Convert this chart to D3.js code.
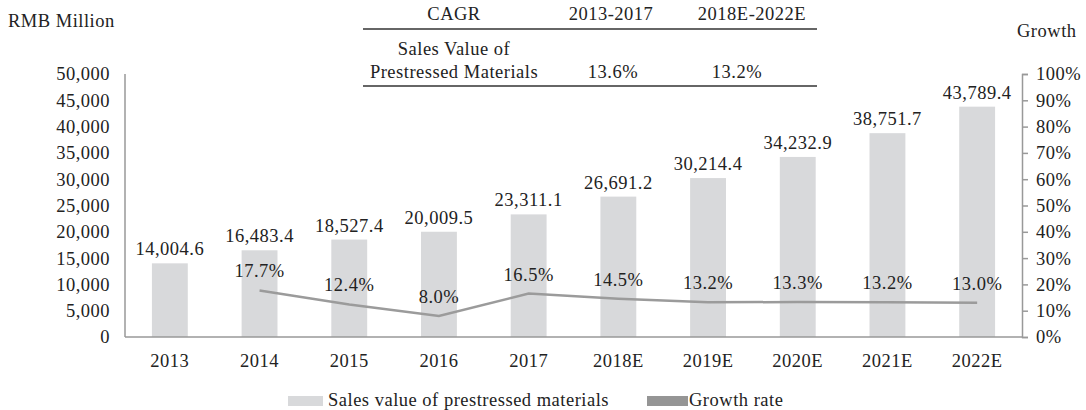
<!DOCTYPE html>
<html>
<head>
<meta charset="utf-8">
<script src="https://cdn.jsdelivr.net/npm/d3@7"></script>
<style>
  body { margin: 0; background: #fff; }
  svg text { font-family: "Palatino Linotype", "Book Antiqua", "Liberation Serif", serif; font-size: 18.5px; letter-spacing: 0.5px; fill: #222; }
</style>
</head>
<body>
<script>
var years = ["2013", "2014", "2015", "2016", "2017", "2018E", "2019E", "2020E", "2021E", "2022E"];
var sales = [14004.6, 16483.4, 18527.4, 20009.5, 23311.1, 26691.2, 30214.4, 34232.9, 38751.7, 43789.4];
var growth = [null, 17.7, 12.4, 8.0, 16.5, 14.5, 13.2, 13.3, 13.2, 13.0];
var leftTicks = [0, 5000, 10000, 15000, 20000, 25000, 30000, 35000, 40000, 45000, 50000];
var rightTicks = [0, 10, 20, 30, 40, 50, 60, 70, 80, 90, 100];
var cagrHead = ["CAGR", "2013-2017", "2018E-2022E"];
var cagrRow = ["Sales Value of|Prestressed Materials", "13.6%", "13.2%"];

var width = 1086,
    height = 410,
    plotL = 125, plotR = 1022, plotT = 74, plotB = 337;

var svg = d3.select("body").append("svg")
    .attr("width", width)
    .attr("height", height);

var x = d3.scaleBand().domain(years).range([plotL, plotR]);
var y = d3.scaleLinear().domain([0, 50000]).range([plotB, plotT]);
var y2 = d3.scaleLinear().domain([0, 100]).range([plotB, plotT]);
var fmt = d3.format(",.1f");

// bars
svg.selectAll(".bar")
    .data(sales)
    .enter().append("rect")
    .attr("x", function(d, i) { return x(years[i]) + x.bandwidth() * 0.3; })
    .attr("y", function(d) { return y(d); })
    .attr("width", x.bandwidth() * 0.4)
    .attr("height", function(d) { return plotB - y(d); })
    .attr("fill", "#d8d9db");

svg.selectAll(".blabel")
    .data(sales)
    .enter().append("text")
    .attr("x", function(d, i) { return x(years[i]) + x.bandwidth() / 2; })
    .attr("y", function(d) { return y(d) - 8; })
    .attr("text-anchor", "middle")
    .text(function(d) { return fmt(d); });

// axes
svg.append("line").attr("x1", plotL).attr("x2", plotL).attr("y1", plotT).attr("y2", plotB)
    .attr("stroke", "#999").attr("stroke-width", 1.5);
svg.append("line").attr("x1", plotL).attr("x2", plotR).attr("y1", plotB).attr("y2", plotB)
    .attr("stroke", "#999").attr("stroke-width", 1.5);

var gl = svg.append("g").attr("transform", "translate(" + plotL + ",0)")
    .call(d3.axisLeft(y).tickValues(leftTicks).tickSize(0).tickPadding(15).tickFormat(d3.format(",")));
gl.select(".domain").remove();

var gr = svg.append("g").attr("transform", "translate(" + plotR + ",0)")
    .call(d3.axisRight(y2).tickValues(rightTicks).tickSize(6).tickPadding(8).tickFormat(function(d) { return d + "%"; }));
gr.select(".domain").attr("stroke", "#999").attr("stroke-width", 1.5);
gr.selectAll(".tick line").attr("stroke", "#999").attr("stroke-width", 1.5);

var gx = svg.append("g").attr("transform", "translate(0," + plotB + ")")
    .call(d3.axisBottom(x).tickSize(0).tickPadding(17));
gx.select(".domain").remove();

svg.selectAll("g.tick text")
    .attr("font-family", null).attr("font-size", null)
    .attr("fill", "#222");

// growth line
var pts = growth.map(function(g, i) { return { g: g, yr: years[i] }; })
    .filter(function(d) { return d.g != null; });

var line = d3.line()
    .x(function(d) { return x(d.yr) + x.bandwidth() / 2; })
    .y(function(d) { return y2(d.g); });

svg.append("path")
    .datum(pts)
    .attr("d", line)
    .attr("fill", "none")
    .attr("stroke", "#9b9b9b")
    .attr("stroke-width", 2.5);

svg.selectAll(".glabel")
    .data(pts)
    .enter().append("text")
    .attr("x", function(d) { return x(d.yr) + x.bandwidth() / 2; })
    .attr("y", function(d) { return y2(d.g) - 13; })
    .attr("text-anchor", "middle")
    .text(function(d) { return d.g.toFixed(1) + "%"; });

// axis titles
svg.append("text").attr("x", 8).attr("y", 27).text("RMB Million");
svg.append("text").attr("x", 1017).attr("y", 37).text("Growth");

// CAGR table
var colX = [454, 611, 752];
var tbl = svg.append("g");
tbl.append("line").attr("x1", 363).attr("x2", 817).attr("y1", 29).attr("y2", 29).attr("stroke", "#333").attr("stroke-width", 1.3);
tbl.append("line").attr("x1", 363).attr("x2", 817).attr("y1", 86).attr("y2", 86).attr("stroke", "#333").attr("stroke-width", 1.3);
tbl.selectAll(".h").data(cagrHead).enter().append("text")
    .attr("x", function(d, i) { return colX[i]; })
    .attr("y", 20)
    .attr("text-anchor", "middle")
    .text(function(d) { return d; });
cagrRow[0].split("|").forEach(function(s, j) {
    tbl.append("text").attr("x", colX[0]).attr("y", 55 + j * 23)
        .attr("text-anchor", "middle").text(s);
});
tbl.selectAll(".v").data(cagrRow.slice(1)).enter().append("text")
    .attr("x", function(d, i) { return [613, 737][i]; })
    .attr("y", 78)
    .attr("text-anchor", "middle")
    .text(function(d) { return d; });

// legend
var lg = svg.append("g");
lg.append("rect").attr("x", 288).attr("y", 396).attr("width", 35).attr("height", 10).attr("fill", "#d8d9db");
lg.append("text").attr("x", 328).attr("y", 406).text("Sales value of prestressed materials");
lg.append("rect").attr("x", 647).attr("y", 396).attr("width", 41).attr("height", 10).attr("fill", "#959595");
lg.append("text").attr("x", 689).attr("y", 406).text("Growth rate");
</script>
</body>
</html>
